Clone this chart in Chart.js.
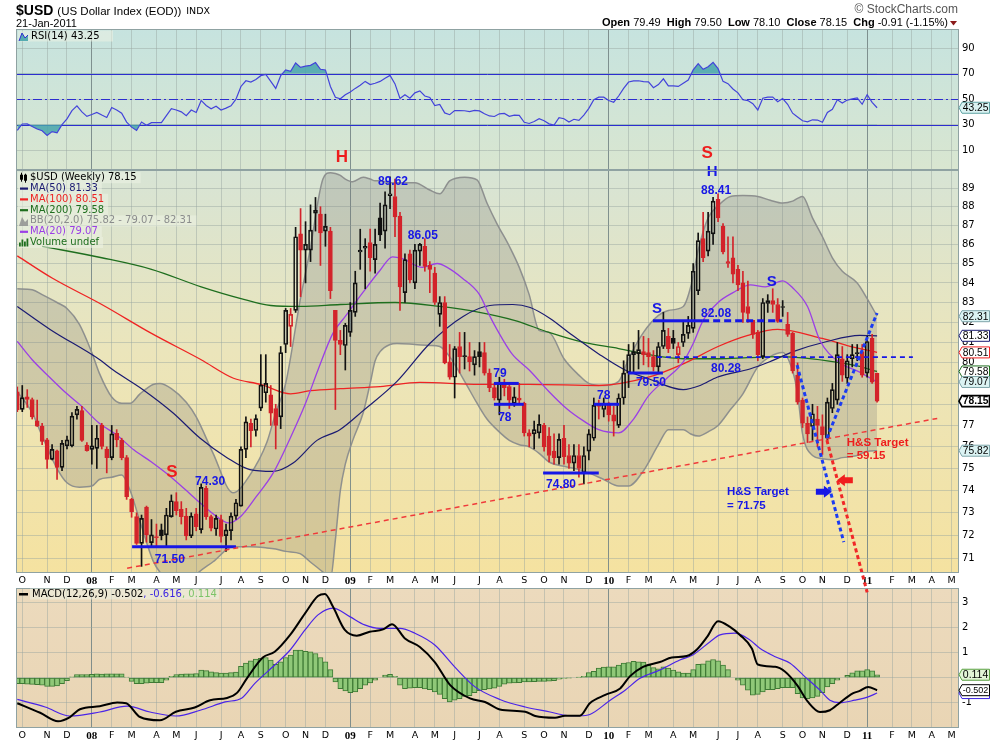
<!DOCTYPE html>
<html>
<head>
<meta charset="utf-8">
<title>$USD (US Dollar Index (EOD)) weekly</title>
<script src="https://cdn.jsdelivr.net/npm/chart.js@4.4.1/dist/chart.umd.min.js"></script>
<style>
html,body{margin:0;padding:0;background:#ffffff;}
#wrap{position:relative;width:990px;height:744px;overflow:hidden;background:#fff;}
#wrap canvas{position:absolute;left:0;top:0;}
</style>
</head>
<body>
<div id="wrap">
<canvas id="cRsi" width="990" height="744"></canvas>
<canvas id="cMacd" width="990" height="744"></canvas>
<canvas id="cPrice" width="990" height="744"></canvas>
</div>
<script>
// ================= DATA =================
const firstBarDate = [2007, 8, 24];   // week 0 = week of Monday 24-Sep-2007
const tickFirstMonth = [2007, 9];     // Oct 2007
const tickLastMonth = [2011, 4];      // May 2011
const monthLetters = ['J','F','M','A','M','J','J','A','S','O','N','D'];
const priceTicks = [71,72,73,74,75,76,77,78,79,80,81,82,83,84,85,86,87,88,89];
const rsiTicks = [10,30,50,70,90];
const macdTicks = [-1,0,1,2,3];

const opens = [
78.59,77.76,78.35,78.23,77.22,76.97,76.32,75.42,75.82,75.05,
76.05,76.05,77.50,77.70,76.08,75.88,75.93,77.02,75.90,75.50,
76.63,76.30,75.50,73.60,72.83,71.65,73.25,71.68,71.90,72.24,
72.02,72.83,73.50,73.15,72.85,71.98,72.95,72.25,74.10,72.83,
72.28,72.70,71.99,72.21,72.85,73.30,75.88,77.10,76.76,77.82,
78.55,78.45,77.80,77.40,80.90,81.80,82.60,86.55,85.70,85.70,
87.65,87.60,86.70,86.70,82.60,81.10,80.85,81.50,82.50,85.60,
85.80,86.10,85.20,87.40,86.70,88.60,88.55,87.50,83.50,85.50,
84.00,85.65,85.90,84.90,84.50,82.40,83.00,80.05,79.30,80.80,
80.30,80.30,79.90,80.55,80.50,79.50,78.80,78.20,79.00,78.85,
78.05,78.30,78.05,76.65,76.60,76.65,77.00,76.50,75.80,75.50,
76.40,75.60,75.25,75.60,74.80,75.80,76.40,78.00,77.75,78.00,
77.50,77.00,78.30,79.50,80.40,80.45,80.55,80.50,80.30,79.80,
80.80,81.30,81.20,80.40,81.00,81.45,81.70,83.60,86.30,85.65,
86.55,88.40,86.95,85.10,85.30,84.70,84.00,82.80,82.10,81.50,
80.30,82.95,83.10,82.90,82.75,81.90,81.45,79.40,78.20,77.10,
76.95,77.30,76.95,76.40,77.80,78.20,80.20,79.25,80.20,80.45,
80.55,79.50,81.20,79.49];
const highs = [
78.83,78.90,78.70,78.30,78.20,77.10,76.40,76.10,75.85,76.30,
76.50,77.60,77.90,77.90,76.20,77.00,77.00,77.10,76.00,77.00,
76.80,76.40,75.60,73.65,73.00,72.90,73.30,72.70,72.50,72.50,
73.20,73.80,73.90,73.50,73.20,73.00,73.20,74.30,74.20,72.90,
72.90,72.90,72.50,73.00,73.60,76.00,77.40,77.30,77.50,80.40,
80.40,78.90,78.00,80.80,82.70,82.70,86.90,87.90,87.20,88.10,
88.50,88.00,87.60,86.90,82.60,81.60,81.95,83.00,84.60,86.80,
86.30,86.80,86.80,88.20,88.80,89.62,89.50,87.70,85.50,85.70,
86.00,86.05,86.30,85.10,84.80,83.30,83.30,80.90,80.80,81.50,
81.50,81.00,80.60,81.00,81.00,79.70,79.00,79.30,79.20,79.00,
78.80,79.00,78.10,76.80,77.20,77.50,77.10,76.90,76.60,76.60,
77.00,76.10,76.10,76.10,76.00,76.80,78.30,78.20,78.30,78.10,
77.90,78.50,80.10,80.90,81.00,81.60,81.30,81.20,80.60,81.00,
82.50,81.70,81.60,81.00,82.00,82.30,85.00,86.60,87.70,87.70,
88.50,88.70,87.10,86.40,86.40,84.90,84.60,84.10,82.10,81.60,
83.20,83.40,83.70,83.20,83.10,82.50,81.50,80.00,78.30,77.40,
78.00,77.90,77.50,78.30,79.00,81.00,80.80,80.40,80.90,80.90,
80.90,81.30,81.40,79.50];
const lows = [
77.65,77.65,77.85,77.30,76.95,76.10,75.00,75.40,74.50,74.90,
75.90,76.00,77.30,76.25,75.80,75.20,75.00,75.90,74.80,75.40,
76.00,75.40,73.60,72.80,71.60,70.65,71.70,71.50,71.50,71.80,
71.50,72.80,72.90,72.50,71.80,71.90,72.20,72.10,72.70,72.20,
72.00,71.70,71.30,71.80,72.70,73.30,75.50,76.00,76.50,77.70,
78.10,77.00,75.90,76.85,80.50,80.80,82.50,83.30,84.00,85.10,
86.70,84.90,85.90,83.20,77.75,80.40,79.65,81.30,82.30,84.70,
83.70,84.60,84.50,86.20,85.80,87.90,86.40,82.60,83.00,84.00,
83.70,84.90,84.60,83.50,82.90,81.80,79.95,79.20,78.30,79.50,
79.70,79.60,79.40,79.80,79.40,78.60,78.20,77.50,78.40,77.80,
77.90,78.00,76.50,76.00,75.90,76.40,75.80,75.30,75.20,75.20,
75.20,75.00,74.90,74.60,74.30,75.40,76.30,77.30,77.40,77.20,
76.50,76.90,78.00,78.80,79.50,79.70,79.90,79.80,79.60,79.50,
80.70,80.50,80.70,80.00,80.80,81.20,81.50,83.40,85.10,85.40,
86.00,87.20,85.50,84.80,84.00,83.60,82.00,82.00,81.20,80.10,
80.20,82.50,82.50,82.00,82.30,81.30,79.50,78.00,76.90,76.20,
76.30,76.00,75.65,76.30,77.60,78.00,79.10,79.00,79.80,80.10,
79.30,79.30,79.00,78.10];
const closes = [
77.73,78.32,78.23,77.40,76.97,76.25,75.42,75.88,75.05,76.16,
76.32,77.44,77.76,76.30,75.82,76.05,76.40,76.02,75.50,76.60,
76.32,75.50,73.72,73.05,71.65,72.75,72.02,72.02,71.95,71.99,
72.90,73.54,73.10,72.83,71.98,72.85,72.38,74.14,72.83,72.32,
72.75,71.95,72.24,72.85,73.45,75.88,77.17,76.75,77.32,78.92,
79.00,77.58,77.00,80.50,82.60,82.40,86.40,85.70,86.00,86.75,
87.80,86.60,86.95,83.60,81.10,80.90,81.85,82.60,84.00,85.70,
85.90,85.30,86.00,86.50,88.10,88.70,87.46,83.80,85.20,84.15,
85.70,86.00,84.85,84.70,83.00,83.00,80.00,79.30,80.70,80.30,
80.35,80.05,80.30,80.30,79.50,78.80,78.30,79.00,78.80,78.20,
78.35,78.20,76.65,76.50,76.80,77.05,76.00,75.60,75.50,76.35,
75.55,75.25,75.60,75.00,75.60,76.60,77.95,77.90,78.05,77.50,
77.20,78.30,79.50,80.40,80.55,80.65,80.40,80.30,79.80,80.80,
81.60,80.70,80.95,80.80,81.40,81.85,84.60,86.20,85.30,86.70,
88.30,87.40,85.60,85.00,84.45,83.90,82.50,82.45,81.40,80.40,
83.00,83.10,82.90,82.05,82.80,81.40,79.60,78.10,77.10,76.60,
77.55,77.00,76.55,78.10,78.70,80.40,79.40,80.10,80.40,80.50,
79.40,81.05,79.06,78.15];

const rsi14 = [
25.4,30.5,30.6,28.5,26.5,25.2,21.5,24.5,23.5,30,
34.5,41,44.8,40,36.5,38,39.6,37.5,35.6,43.5,
41.5,39,32,28,25.4,32,29.5,31.5,31.5,31.5,
37,42.5,41.5,40,37,41.5,39.5,49,45,42.5,
44.5,41.5,43,44.8,50,60,64.5,63.4,65.5,68.5,
69.5,64,58.5,68.5,73,72,78.5,75,76,76.6,
78.8,73.5,73,60,51.5,50.3,53.5,55.7,58.5,61,
64,61.5,62.5,64,66.5,68.7,62,50.5,53.5,50.8,
55,56.5,52.5,51.3,45,45.8,39.2,37.8,41,41,
40.9,40.3,41.2,40.8,38.5,36.8,36.4,38.5,38.8,36.5,
37.4,37.2,31.8,30.9,32.5,34.6,33,30.6,29.6,35.5,
34.6,32,34.2,33.3,37.5,42.8,49.5,51.6,51.6,49,
47.6,52.5,58.5,63.5,64.4,64.5,63.8,63.6,59,61.5,
66,60.5,60.5,60,62.5,65,73,78,73.5,75.5,
79,74,64,62.2,58,55,49.5,48.9,46.5,41.5,
50.8,51.6,51.6,48,50.5,46,39,36,33,32.2,
33.8,33.6,31.8,39.5,42,49.5,47,49.3,50.2,51,
46,53.5,47.5,43.25];

const macdHist = [
-0.24,-0.24,-0.26,-0.27,-0.28,-0.3,-0.35,-0.35,-0.33,-0.24,
-0.12,0.03,0.12,0.12,0.12,0.13,0.15,0.14,0.15,0.15,
0.15,0.15,0.02,-0.15,-0.24,-0.24,-0.22,-0.2,-0.2,-0.2,
-0.1,0.05,0.12,0.14,0.15,0.15,0.16,0.3,0.28,0.23,
0.2,0.18,0.18,0.2,0.22,0.45,0.58,0.67,0.74,0.77,
0.8,0.7,0.53,0.63,0.8,0.9,1.1,1.1,1.05,1.03,
0.96,0.8,0.63,0.32,-0.17,-0.44,-0.53,-0.6,-0.57,-0.44,
-0.3,-0.21,-0.1,0.0,0.1,0.13,0.05,-0.3,-0.44,-0.42,
-0.4,-0.4,-0.45,-0.48,-0.57,-0.67,-0.84,-0.97,-0.9,-0.84,
-0.75,-0.72,-0.6,-0.52,-0.48,-0.45,-0.42,-0.35,-0.26,-0.22,
-0.21,-0.2,-0.17,-0.17,-0.16,-0.15,-0.15,-0.14,-0.12,-0.06,
-0.03,-0.01,0.0,0.01,0.05,0.2,0.25,0.38,0.42,0.43,
0.43,0.5,0.58,0.6,0.65,0.63,0.62,0.5,0.4,0.35,
0.43,0.38,0.3,0.23,0.18,0.18,0.32,0.53,0.55,0.67,
0.72,0.67,0.5,0.32,0.0,-0.1,-0.3,-0.5,-0.7,-0.67,
-0.57,-0.48,-0.48,-0.44,-0.4,-0.4,-0.4,-0.64,-0.81,-0.84,
-0.81,-0.75,-0.6,-0.37,-0.24,-0.1,0.0,0.09,0.19,0.27,
0.27,0.32,0.27,0.114];

// [week, value] readings
const macdLine = [[0,-1.02],[4.6,-1.4],[8.2,-1.74],[10.6,-1.57],[12.6,-1.26],[16.6,-1.14],[20.1,-0.99],[21.9,-1.02],[24.7,-1.57],[28.7,-1.7],[31.9,-1.36],[35.7,-1.19],[38.8,-0.9],[42.2,-0.81],[44.2,-0.61],[46.2,-0.03],[49.4,0.8],[51.8,1.03],[54.9,1.7],[57.9,2.56],[60.5,3.25],[61.9,3.33],[63.5,2.83],[65.9,1.9],[68.3,1.67],[70.9,1.83],[73.6,1.92],[75.4,2.13],[78,1.56],[81,1.22],[84,0.62],[87.1,-0.3],[91.1,-0.83],[94.1,-0.97],[97.1,-1.27],[102.2,-1.36],[104.2,-1.53],[108.2,-1.6],[110.2,-1.52],[113.2,-1.52],[115.2,-1.02],[118.3,-0.69],[121.3,-0.43],[123.3,0.06],[125.9,0.43],[129.3,0.62],[131.7,0.8],[134.7,0.86],[136.8,1.13],[138.8,1.62],[141,2.25],[143.4,2.02],[145.4,1.7],[147.8,1.16],[149,0.52],[152.5,0.43],[154.5,0.23],[156.9,-0.3],[159.1,-0.97],[161.5,-1.37],[163.5,-1.3],[165.5,-1.0],[168.1,-0.63],[169.5,-0.53],[171.2,-0.37],[173,-0.502]];
const macdSignal = [[0,-0.87],[5.6,-1.17],[10.6,-1.53],[16.6,-1.37],[22.1,-1.14],[26.7,-1.37],[31.9,-1.53],[36.8,-1.3],[41.8,-0.97],[45.2,-0.81],[47.8,-0.23],[51.8,0.5],[54.9,1.1],[57.9,1.9],[60.5,2.5],[63.5,2.77],[66.9,2.43],[69.9,2.1],[72.9,1.96],[77,1.96],[80,1.77],[84,1.3],[88,0.43],[92.1,-0.37],[97.1,-0.87],[102.2,-1.17],[107.2,-1.37],[110.2,-1.5],[113.2,-1.52],[115.2,-1.47],[119.3,-0.9],[122.3,-0.5],[125.3,-0.03],[129.3,0.3],[133.3,0.7],[135.9,0.9],[139.4,1.43],[141.4,1.7],[144.4,1.77],[147.4,1.5],[149.4,1.17],[152.5,0.83],[155.5,0.57],[158.5,0.03],[161.5,-0.5],[163.5,-0.9],[165.5,-1.0],[168.5,-0.9],[171.2,-0.77],[173,-0.616]];

const ma20 = [[0,81.05],[3,80.15],[6.5,79.3],[10,78.5],[13,77.9],[16.5,77.1],[20,76.55],[23.5,75.85],[27,75.3],[30,74.78],[33.5,74.1],[37,73.4],[40,72.85],[42.5,72.55],[45,72.85],[48,73.7],[51.5,74.8],[55,76.45],[58,78.05],[60.5,79.65],[63.5,81.45],[66,82.3],[69.5,83.5],[73,84.65],[75.5,85.35],[77.5,85.25],[81.5,84.8],[84.5,85.0],[86.5,84.8],[89.5,84.25],[93,83.4],[95,82.35],[96.5,81.65],[99.5,80.45],[103,79.65],[107,78.6],[110.5,77.8],[114,77.2],[117,76.8],[121,76.65],[124,77.3],[127,78.4],[130.5,79.2],[134,80.05],[136,80.95],[138,82.1],[141,83.0],[144,83.5],[147.5,83.9],[150.5,83.8],[154,84.1],[156,83.75],[159,82.8],[161.5,81.1],[165.5,80.0],[169.5,79.55],[173,79.07]];
const ma50 = [[0,82.8],[6.6,81.65],[16.6,80.15],[19.3,79.65],[25.3,78.7],[31.3,77.6],[36.8,76.4],[42.2,75.5],[46.8,74.95],[51.5,74.87],[55.5,75.25],[60.3,76.3],[64.9,76.8],[69.6,77.7],[76.4,79.1],[83,80.95],[89.7,82.3],[95.1,82.85],[99.7,82.9],[103.2,82.75],[107.2,82.2],[111.2,81.45],[117.2,80.4],[121.9,79.7],[127.3,79.2],[134,78.7],[137.4,78.9],[140.8,79.3],[147.4,79.7],[151.4,80.05],[156.1,80.55],[162.9,81.05],[169.5,81.35],[173,81.33]];
const ma100 = [[0,85.4],[7,84.25],[17,82.9],[27,81.45],[37,80.15],[43.5,79.25],[49,78.95],[55,78.5],[59,78.65],[65,78.75],[73,78.85],[81,79.05],[93,78.95],[103,78.95],[117,78.9],[127,79.3],[134,79.95],[141,80.8],[147,81.35],[153,81.65],[162,81.2],[167,80.85],[173,80.51]];
const ma200 = [[5,85.9],[17,85.3],[27,84.7],[37,83.8],[45,83.2],[51,82.85],[57,82.8],[65,82.9],[76,83.0],[85,82.8],[93,82.5],[100,82.1],[107,81.5],[114,81.0],[121,80.7],[127,80.4],[134,80.2],[141,80.2],[147,80.25],[153,80.3],[163,80.1],[169,79.85],[173,79.58]];

const bbWeeks = [0,3,5,8,10,12.5,15,16.5,19,21,22.7,24.7,27.3,28.7,31,34,36,39.4,43.4,46.8,50.2,52,54,56.9,58.9,61.5,63,64,65,66,67.5,69.6,71,72,73,75,76.4,80,83,85,87,90,92.5,94.5,96.5,99,101,103,105,107,110,113,115,118,121,123,126,129,131,134,135.5,137,139,141,143.5,146,149,151.5,154,156,157,158,160,162,164,166,169,171,173];
const bbUpper = [83.7,83.65,83.4,83.0,82.7,81.9,80.5,79.5,78.35,78.05,78.05,78.5,78.95,79.0,78.75,78.1,77.4,75.7,73.9,74.7,76.2,77.6,79.0,83.1,85.7,89.5,89.85,89.8,89.7,89.5,89.35,89.6,89.5,89.4,89.4,89.3,89.3,89.3,88.9,88.7,89.4,89.6,89.45,88.2,87.1,85.9,84.8,83.4,81.6,81.5,80.2,79.4,79.0,78.9,79.1,80.2,81.5,82.35,82.6,82.8,83.8,85.7,87.4,88.05,88.55,88.6,88.55,88.35,88.2,88.3,88.45,88.55,87.4,86.4,85.3,84.6,84.0,83.2,82.31];
const bbLower = [78.6,77.6,76.5,75.0,74.35,74.15,74.2,74.5,74.6,74.7,74.0,72.6,70.9,70.4,69.9,69.8,70.3,70.85,71.5,71.5,71.45,71.4,71.3,71.2,70.85,70.4,70.1,71.8,74.0,75.2,76.3,77.6,79.0,80.1,80.55,80.9,80.95,80.9,80.85,80.8,80.3,79.1,78.05,77.3,76.8,76.3,76.1,76.0,75.7,75.3,75.1,74.95,74.8,74.5,74.2,74.2,74.9,76.1,76.8,76.8,76.6,76.5,76.7,77.0,77.75,78.5,79.8,80.3,80.5,79.6,78.5,76.6,75.6,75.45,75.4,75.5,75.6,75.8,75.82];

// ================= ANNOTATIONS (chart coordinates: week, price) =================
const RED = '#ee1d1d', BLUE = '#1717e6';
const noteTexts = [
  {t:'H', w:65.3, p:90.72, c:RED, f:'bold 17px "Liberation Sans"'},
  {t:'S', w:138.8, p:90.89, c:RED, f:'bold 17px "Liberation Sans"'},
  {t:'H', w:139.8, p:89.89, c:BLUE, f:'bold 15px "Liberation Sans"'},
  {t:'S', w:31.1, p:74.83, c:RED, f:'bold 17px "Liberation Sans"'},
  {t:'74.30', w:38.8, p:74.42, c:BLUE, f:'bold 12px "Liberation Sans"'},
  {t:'71.50', w:30.7, p:70.96, c:BLUE, f:'bold 12px "Liberation Sans"'},
  {t:'89.62', w:75.6, p:89.34, c:BLUE, f:'bold 12px "Liberation Sans"'},
  {t:'86.05', w:81.6, p:86.44, c:BLUE, f:'bold 12px "Liberation Sans"'},
  {t:'79', w:97.1, p:79.45, c:BLUE, f:'bold 12px "Liberation Sans"'},
  {t:'78', w:98.1, p:77.38, c:BLUE, f:'bold 12px "Liberation Sans"'},
  {t:'74.80', w:109.4, p:74.27, c:BLUE, f:'bold 12px "Liberation Sans"'},
  {t:'78', w:118.0, p:78.41, c:BLUE, f:'bold 12px "Liberation Sans"'},
  {t:'79.50', w:127.5, p:79.03, c:BLUE, f:'bold 12px "Liberation Sans"'},
  {t:'S', w:128.7, p:82.66, c:BLUE, f:'bold 15px "Liberation Sans"'},
  {t:'82.08', w:140.6, p:82.45, c:BLUE, f:'bold 12px "Liberation Sans"'},
  {t:'80.28', w:142.6, p:79.69, c:BLUE, f:'bold 12px "Liberation Sans"'},
  {t:'88.41', w:140.6, p:88.85, c:BLUE, f:'bold 12px "Liberation Sans"'},
  {t:'S', w:151.8, p:84.06, c:BLUE, f:'bold 15px "Liberation Sans"'},
  {t:'H&S Target', w:166.9, p:76.20, c:RED, f:'bold 11.5px "Liberation Sans"', a:'left'},
  {t:'= 59.15', w:166.9, p:75.57, c:RED, f:'bold 11.5px "Liberation Sans"', a:'left'},
  {t:'H&S Target', w:142.8, p:73.93, c:BLUE, f:'bold 11.5px "Liberation Sans"', a:'left'},
  {t:'= 71.75', w:142.8, p:73.30, c:BLUE, f:'bold 11.5px "Liberation Sans"', a:'left'}
];
const noteLines = [
  {w1:23.1, p1:71.5, w2:44.0, p2:71.5, c:BLUE, lw:3, d:[], clip:true},
  {w1:95.9, p1:79, w2:100.9, p2:79, c:BLUE, lw:3, d:[], clip:true},
  {w1:95.9, p1:78, w2:101.9, p2:78, c:BLUE, lw:3, d:[], clip:true},
  {w1:105.8, p1:74.8, w2:117.0, p2:74.8, c:BLUE, lw:3, d:[], clip:true},
  {w1:116.0, p1:78, w2:121.1, p2:78, c:BLUE, lw:3, d:[], clip:true},
  {w1:122.9, p1:79.5, w2:129.9, p2:79.5, c:BLUE, lw:3, d:[], clip:true},
  {w1:127.9, p1:82.08, w2:137.8, p2:82.08, c:BLUE, lw:3, d:[], clip:true},
  {w1:137.8, p1:82.08, w2:153.9, p2:82.08, c:BLUE, lw:3, d:[7,4], clip:true},
  {w1:128.7, p1:80.28, w2:180.2, p2:80.28, c:BLUE, lw:1.6, d:[5,4], clip:true},
  {w1:22.1, p1:70.57, w2:185.1, p2:77.33, c:'#f03a3a', lw:1.5, d:[5,4], clip:true},
  {w1:156.9, p1:79.89, w2:166.3, p2:71.70, c:'#1b3cf2', lw:3, d:[4,3], clip:true},
  {w1:162.9, p1:76.40, w2:173.0, p2:82.47, c:'#1b3cf2', lw:3, d:[4,3], clip:true},
  {w1:162.9, p1:76.31, w2:171.0, p2:69.54, c:'#f02828', lw:3, d:[4,3], clip:false}
];
const noteArrows = [
  {w:163.9, p:73.94, dir:1, c:BLUE},
  {w:164.9, p:74.47, dir:-1, c:'#f01e1e'}
];

// ================= HELPERS =================
Chart.defaults.font.family = '"DejaVu Sans", Verdana, sans-serif';
Chart.defaults.font.size = 10;
Chart.defaults.color = '#000';
Chart.defaults.animation = false;
Chart.defaults.responsive = false;
Chart.defaults.events = [];
Chart.defaults.plugins.legend.display = false;
Chart.defaults.plugins.tooltip.enabled = false;

const X_MIN = -0.26, X_MAX = 189.48;
const DAY = 86400000;
const T0 = Date.UTC(firstBarDate[0], firstBarDate[1], firstBarDate[2]);
const monthTicks = [];
for (let k = tickFirstMonth[0]*12 + tickFirstMonth[1]; k <= tickLastMonth[0]*12 + tickLastMonth[1]; k++) {
  const yy = Math.floor(k / 12), mm = k % 12;
  const w = Math.ceil((Date.UTC(yy, mm, 1) - T0) / (7 * DAY));
  monthTicks.push({value: w, label: mm === 0 ? String(yy).slice(2) : monthLetters[mm], year: mm === 0});
}
const tickInfo = new Map(monthTicks.map(t => [t.value, t]));
const isYearTick = c => !!(c && c.tick && tickInfo.get(c.tick.value) && tickInfo.get(c.tick.value).year);
const P = arr => arr.map(([x, y]) => ({x, y}));
const weeks = closes.map((_, i) => i);
const last = a => a[a.length - 1];

function xScale(showLabels, h) {
  return {
    type: 'linear', min: X_MIN, max: X_MAX, offset: false,
    afterBuildTicks: s => { s.ticks = monthTicks.map(t => ({value: t.value})); },
    afterFit: s => { s.height = h; },
    border: {display: false},
    grid: {offset: false, drawTicks: false, lineWidth: 1,
      color: c => isYearTick(c) ? 'rgba(118,134,134,0.9)' : 'rgba(150,165,160,0.45)'},
    ticks: {display: showLabels, autoSkip: false, maxRotation: 0, minRotation: 0, padding: 2, color: '#000',
      callback: v => (tickInfo.get(v) || {label: ''}).label,
      font: c => isYearTick(c) ? {family: '"Liberation Serif", serif', size: 11, weight: 'bold'} : {family: '"DejaVu Sans", sans-serif', size: 9.5}}
  };
}
function yScale(type, min, max, ticks) {
  return {
    type, position: 'right', min, max,
    afterBuildTicks: s => { s.ticks = ticks.map(v => ({value: v})); },
    afterFit: s => { s.width = 31; },
    border: {display: false},
    grid: {drawTicks: false, color: 'rgba(150,165,160,0.45)', lineWidth: 1},
    ticks: {autoSkip: false, padding: 3, color: '#000', font: {size: 10, family: '"DejaVu Sans", sans-serif'}, callback: v => String(v)}
  };
}
function bgPlugin(stops) {
  return {
    id: 'panelBg',
    beforeDraw(chart) {
      const {ctx, chartArea: a} = chart;
      const g = ctx.createLinearGradient(0, a.top, 0, a.bottom);
      stops.forEach(([o, c]) => g.addColorStop(o, c));
      ctx.save(); ctx.fillStyle = g; ctx.fillRect(a.left, a.top, a.right - a.left, a.bottom - a.top); ctx.restore();
    }
  };
}
function border(chart) {
  const {ctx, chartArea: a} = chart;
  ctx.save(); ctx.strokeStyle = '#8fa2a2'; ctx.lineWidth = 1;
  ctx.strokeRect(Math.round(a.left) + 0.5, Math.round(a.top) + 0.5, Math.round(a.right - a.left) - 1, Math.round(a.bottom - a.top) - 1);
  ctx.restore();
}
function valueTag(ctx, xTip, y, text, st) {
  ctx.save();
  const x1 = xTip + 3, x2 = 989.5, maxW = x2 - x1 - 1.5;
  let size = 11.5, font;
  do {
    size -= 0.25;
    font = (st.bold ? 'bold ' : '') + size + 'px "Liberation Sans"';
    ctx.font = font;
  } while (ctx.measureText(text).width > maxW && size > 6);
  const h = 11;
  ctx.beginPath();
  ctx.moveTo(xTip, y); ctx.lineTo(x1, y - h / 2); ctx.lineTo(x2, y - h / 2); ctx.lineTo(x2, y + h / 2); ctx.lineTo(x1, y + h / 2); ctx.closePath();
  ctx.fillStyle = st.fill; ctx.fill();
  ctx.lineWidth = st.lw || 1; ctx.strokeStyle = st.stroke; ctx.stroke();
  ctx.fillStyle = st.color || '#000'; ctx.textAlign = 'left'; ctx.textBaseline = 'middle';
  ctx.font = font;
  ctx.fillText(text, x1 + 0.8, y + 0.5);
  ctx.restore();
}
function text(ctx, s, x, y, font, color, align) {
  ctx.font = font; ctx.fillStyle = color; ctx.textAlign = align || 'left'; ctx.textBaseline = 'middle';
  ctx.fillText(s, x, y);
  return ctx.measureText(s).width;
}
function legendBox(ctx, x, y, w) {
  ctx.fillStyle = 'rgba(236,242,228,0.55)';
  ctx.fillRect(x, y - 5.5, w, 11);
}
const f2 = v => v.toFixed(2);

// ================= RSI PANEL =================
new Chart(document.getElementById('cRsi'), {
  type: 'line',
  data: {datasets: [
    {data: P(weeks.map(i => [i, rsi14[i]])), borderColor: '#4343da', borderWidth: 1.2, pointRadius: 0, tension: 0,
      fill: {target: {value: 70}, above: 'rgba(70,165,172,0.85)', below: 'rgba(0,0,0,0)'}},
    {data: P(weeks.map(i => [i, rsi14[i]])), borderColor: 'rgba(0,0,0,0)', borderWidth: 0, pointRadius: 0, tension: 0,
      fill: {target: {value: 30}, above: 'rgba(0,0,0,0)', below: 'rgba(70,165,172,0.85)'}}
  ]},
  options: {
    devicePixelRatio: 1,
    layout: {padding: {left: 16, top: 29, right: 0, bottom: 574}},
    scales: {x: xScale(false, 0), y: yScale('linear', -5.7, 105.2, rsiTicks)}
  },
  plugins: [bgPlugin([[0, '#c6e3df'], [1, '#d9e6d0']]), {
    id: 'rsiDeco',
    beforeDatasetsDraw(chart) {
      const {ctx, chartArea: a, scales: {y}} = chart;
      ctx.save(); ctx.strokeStyle = '#2d2dcf'; ctx.lineWidth = 1;
      [70, 30].forEach(v => { const py = Math.round(y.getPixelForValue(v)) + 0.5; ctx.beginPath(); ctx.moveTo(a.left, py); ctx.lineTo(a.right, py); ctx.stroke(); });
      ctx.setLineDash([9, 3, 2, 3]);
      const p5 = Math.round(y.getPixelForValue(50)) + 0.5; ctx.beginPath(); ctx.moveTo(a.left, p5); ctx.lineTo(a.right, p5); ctx.stroke();
      ctx.restore();
    },
    afterDraw(chart) {
      const {ctx, chartArea: a, scales: {y}} = chart;
      border(chart);
      ctx.save();
      // header
      let hx = 16;
      hx += text(ctx, '$USD', hx, 11, 'bold 14px "Liberation Sans"', '#000') + 4;
      hx += text(ctx, '(US Dollar Index (EOD))', hx, 11.5, '11.5px "Liberation Sans"', '#000') + 5;
      text(ctx, 'INDX', hx, 11.5, '9.5px "DejaVu Sans"', '#000');
      text(ctx, '21-Jan-2011', 16, 24, '11px "Liberation Sans"', '#000');
      text(ctx, '\u00A9 StockCharts.com', 958, 10, '12px "Liberation Sans"', '#555', 'right');
      // OHLC line
      const n = closes.length - 1;
      const chg = closes[n] - closes[n - 1];
      const segs = [['Open ', 1], [f2(opens[n]) + '  ', 0], ['High ', 1], [f2(highs[n]) + '  ', 0], ['Low ', 1], [f2(lows[n]) + '  ', 0],
        ['Close ', 1], [f2(closes[n]) + '  ', 0], ['Chg ', 1], [f2(chg) + ' (' + f2(chg / closes[n - 1] * 100) + '%)', 0]];
      const fnt = b => (b ? 'bold ' : '') + '11px "Liberation Sans"';
      let tot = 0; segs.forEach(([s, b]) => { ctx.font = fnt(b); tot += ctx.measureText(s).width; });
      let xx = 948 - tot;
      segs.forEach(([s, b]) => { xx += text(ctx, s, xx, 23, fnt(b), '#000'); });
      ctx.fillStyle = '#8b1a1a'; ctx.beginPath(); ctx.moveTo(950, 21); ctx.lineTo(957, 21); ctx.lineTo(953.5, 25.5); ctx.closePath(); ctx.fill();
      // legend
      legendBox(ctx, 18, 36, 95);
      ctx.fillStyle = 'rgba(70,165,172,0.9)'; ctx.strokeStyle = '#2d2dcf'; ctx.lineWidth = 1;
      ctx.beginPath(); ctx.moveTo(19, 41); ctx.lineTo(22, 33); ctx.lineTo(25, 38); ctx.lineTo(28, 35); ctx.lineTo(28, 41); ctx.closePath(); ctx.fill();
      ctx.beginPath(); ctx.moveTo(19, 41); ctx.lineTo(22, 33); ctx.lineTo(25, 38); ctx.lineTo(28, 35); ctx.stroke();
      text(ctx, 'RSI(14) ' + f2(last(rsi14)), 31, 36, '10px "DejaVu Sans"', '#000');
      valueTag(ctx, a.right, y.getPixelForValue(last(rsi14)), f2(last(rsi14)), {fill: '#dbf3f3', stroke: '#5fa3a3'});
      ctx.restore();
    }
  }]
});

// ================= MACD PANEL =================
new Chart(document.getElementById('cMacd'), {
  type: 'bar',
  data: {datasets: [
    {type: 'bar', data: P(weeks.map(i => [i, macdHist[i]])), backgroundColor: '#8fc878', borderColor: '#3f7a35', borderWidth: 1,
      borderSkipped: false, barThickness: 5, grouped: false, order: 5},
    {type: 'line', data: P(macdSignal), borderColor: '#4a24e8', borderWidth: 1.2, pointRadius: 0, cubicInterpolationMode: 'monotone', order: 2},
    {type: 'line', data: P(macdLine), borderColor: '#000000', borderWidth: 2, pointRadius: 0, cubicInterpolationMode: 'monotone', order: 1}
  ]},
  options: {
    devicePixelRatio: 1,
    layout: {padding: {left: 16, top: 588, right: 0, bottom: 0}},
    scales: {x: xScale(true, 16), y: yScale('linear', -2.008, 3.57, macdTicks)}
  },
  plugins: [bgPlugin([[0, '#ecdabd'], [1, '#e9d5b4']]), {
    id: 'macdDeco',
    afterDraw(chart) {
      const {ctx, chartArea: a, scales: {y}} = chart;
      border(chart);
      ctx.save();
      const m = last(macdLine)[1], s = last(macdSignal)[1], h = last(macdHist);
      const y0 = 594;
      ctx.fillStyle = '#000'; ctx.fillRect(19, y0 - 1, 9, 2.5);
      ctx.font = '10px "DejaVu Sans"';
      const t1 = 'MACD(12,26,9) ' + m.toFixed(3);
      const t2 = ', ' + s.toFixed(3);
      const t3 = ', ' + h.toFixed(3);
      const w1 = ctx.measureText(t1).width, w2 = ctx.measureText(t2).width, w3 = ctx.measureText(t3).width;
      legendBox(ctx, 30, y0, w1 + w2 + w3 + 4);
      text(ctx, t1, 32, y0, '10px "DejaVu Sans"', '#000');
      text(ctx, t2, 32 + w1, y0, '10px "DejaVu Sans"', '#3a22e0');
      text(ctx, t3, 32 + w1 + w2, y0, '10px "DejaVu Sans"', '#7cc468');
      valueTag(ctx, a.right, y.getPixelForValue(s), s.toFixed(3), {fill: '#ffffff', stroke: '#3a22e0'});
      valueTag(ctx, a.right, y.getPixelForValue(m), m.toFixed(3), {fill: '#ffffff', stroke: '#000000'});
      valueTag(ctx, a.right, y.getPixelForValue(h), h.toFixed(3), {fill: '#e1f4d6', stroke: '#5aa042'});
      ctx.restore();
    }
  }]
});

// ================= PRICE PANEL =================
const upColor = i => (closes[i] < (i > 0 ? closes[i - 1] : opens[i])) ? '#d3232a' : '#111111';
const wickUp = weeks.map(i => ({x: i, y: [Math.max(opens[i], closes[i]), highs[i]]}));
const wickDn = weeks.map(i => ({x: i, y: [lows[i], Math.min(opens[i], closes[i])]}));
const bodies = weeks.map(i => ({x: i, y: [opens[i], closes[i]]}));
const lineDs = (arr, color, width, order) => ({type: 'line', data: P(arr), borderColor: color, borderWidth: width, pointRadius: 0,
  cubicInterpolationMode: 'monotone', fill: false, order});

new Chart(document.getElementById('cPrice'), {
  type: 'bar',
  data: {datasets: [
    {type: 'line', data: P(bbWeeks.map((w, i) => [w, bbUpper[i]])), borderColor: 'rgba(138,140,140,0.95)', borderWidth: 1.5, pointRadius: 0,
      cubicInterpolationMode: 'monotone', fill: '+1', backgroundColor: 'rgba(112,112,112,0.24)', order: 20},
    {type: 'line', data: P(bbWeeks.map((w, i) => [w, bbLower[i]])), borderColor: 'rgba(138,140,140,0.95)', borderWidth: 1.5, pointRadius: 0,
      cubicInterpolationMode: 'monotone', fill: false, order: 19},
    lineDs(ma200, '#1e6e1e', 1.3, 10),
    lineDs(ma100, '#ef2323', 1.3, 9),
    lineDs(ma50, '#1b1b72', 1.2, 8),
    lineDs(ma20, '#9b3fe6', 1.3, 7),
    {type: 'bar', data: wickUp, backgroundColor: c => upColor(c.dataIndex), borderWidth: 0, barThickness: 1, grouped: false, order: 3},
    {type: 'bar', data: wickDn, backgroundColor: c => upColor(c.dataIndex), borderWidth: 0, barThickness: 1, grouped: false, order: 3},
    {type: 'bar', data: bodies,
      backgroundColor: c => closes[c.dataIndex] < opens[c.dataIndex] ? upColor(c.dataIndex) : 'rgba(0,0,0,0)',
      borderColor: c => upColor(c.dataIndex), borderWidth: 1, borderSkipped: false, barThickness: 4, minBarLength: 1, grouped: false, order: 2}
  ]},
  options: {
    devicePixelRatio: 1,
    layout: {padding: {left: 16, top: 170, right: 0, bottom: 156}},
    scales: {x: xScale(true, 15), y: yScale('logarithmic', 70.365, 89.995, priceTicks)}
  },
  plugins: [bgPlugin([[0, '#d7e4d5'], [0.45, '#ebe5bb'], [1, '#f5e2a0']]), {
    id: 'priceDeco',
    afterDatasetsDraw(chart) {
      const {ctx, chartArea: a, scales: {x, y}} = chart;
      const drawLine = l => {
        ctx.beginPath(); ctx.strokeStyle = l.c; ctx.lineWidth = l.lw; ctx.setLineDash(l.d);
        ctx.moveTo(x.getPixelForValue(l.w1), y.getPixelForValue(l.p1));
        ctx.lineTo(x.getPixelForValue(l.w2), y.getPixelForValue(l.p2)); ctx.stroke();
      };
      ctx.save();
      ctx.beginPath(); ctx.rect(a.left, a.top, a.right - a.left, a.bottom - a.top); ctx.clip();
      noteLines.filter(l => l.clip).forEach(drawLine);
      ctx.restore();
      ctx.save();
      noteLines.filter(l => !l.clip).forEach(drawLine);
      ctx.restore();
      // arrows
      ctx.save();
      noteArrows.forEach(ar => {
        const tx = x.getPixelForValue(ar.w), ty = y.getPixelForValue(ar.p), d = ar.dir;
        ctx.fillStyle = ar.c; ctx.beginPath();
        ctx.moveTo(tx, ty); ctx.lineTo(tx - d * 8, ty - 6); ctx.lineTo(tx - d * 8, ty - 3); ctx.lineTo(tx - d * 16, ty - 3);
        ctx.lineTo(tx - d * 16, ty + 3); ctx.lineTo(tx - d * 8, ty + 3); ctx.lineTo(tx - d * 8, ty + 6); ctx.closePath(); ctx.fill();
      });
      // texts
      noteTexts.forEach(n => text(ctx, n.t, x.getPixelForValue(n.w), y.getPixelForValue(n.p), n.f, n.c, n.a || 'center'));
      ctx.restore();
    },
    afterDraw(chart) {
      const {ctx, chartArea: a, scales: {y}} = chart;
      border(chart);
      ctx.save();
      // legend
      const rows = [
        {k: 'candle', t: '$USD (Weekly) ' + f2(last(closes)), c: '#000'},
        {k: 'line', ic: '#1b1b72', t: 'MA(50) ' + f2(last(ma50)[1]), c: '#1b1b72'},
        {k: 'line', ic: '#ef2323', t: 'MA(100) ' + f2(last(ma100)[1]), c: '#ef2323'},
        {k: 'line', ic: '#1e6e1e', t: 'MA(200) ' + f2(last(ma200)[1]), c: '#1e6e1e'},
        {k: 'bb', t: 'BB(20,2.0) ' + f2(last(bbLower)) + ' - ' + f2(last(ma20)[1]) + ' - ' + f2(last(bbUpper)), c: '#8a8c8c'},
        {k: 'line', ic: '#9b3fe6', t: 'MA(20) ' + f2(last(ma20)[1]), c: '#9b3fe6'},
        {k: 'vol', t: 'Volume undef', c: '#1e6e1e'}
      ];
      rows.forEach((r, i) => {
        const yy = 177.7 + i * 10.8;
        ctx.font = '10px "DejaVu Sans"';
        legendBox(ctx, 18, yy, ctx.measureText(r.t).width + 16);
        if (r.k === 'line') { ctx.fillStyle = r.ic; ctx.fillRect(20, yy - 1, 8, 2.2); }
        if (r.k === 'candle') {
          ctx.strokeStyle = '#000'; ctx.lineWidth = 1;
          ctx.beginPath(); ctx.moveTo(21.5, yy - 5); ctx.lineTo(21.5, yy + 4); ctx.moveTo(25.5, yy - 4); ctx.lineTo(25.5, yy + 5); ctx.stroke();
          ctx.fillStyle = '#000'; ctx.fillRect(20, yy - 3, 3, 5); ctx.strokeRect(24.5, yy - 2.5, 2, 5);
        }
        if (r.k === 'bb') {
          ctx.fillStyle = 'rgba(140,140,140,0.8)'; ctx.beginPath();
          ctx.moveTo(19, yy + 5); ctx.lineTo(22, yy - 4); ctx.lineTo(25, yy + 1); ctx.lineTo(28, yy - 2); ctx.lineTo(28, yy + 5); ctx.closePath(); ctx.fill();
        }
        if (r.k === 'vol') {
          ctx.fillStyle = '#1e6e1e';
          [[19, 4], [21.5, 7], [24, 5], [26.5, 8]].forEach(([bx, bh]) => ctx.fillRect(bx, yy + 4 - bh, 1.8, bh));
        }
        text(ctx, r.t, 30, yy, '10px "DejaVu Sans"', r.c);
      });
      // value tags on the right axis
      const R = a.right;
      valueTag(ctx, R, y.getPixelForValue(last(bbUpper)), f2(last(bbUpper)), {fill: '#dbf3f3', stroke: '#7fa6aa'});
      valueTag(ctx, R, y.getPixelForValue(last(ma50)[1]), f2(last(ma50)[1]), {fill: '#ffffff', stroke: '#1b1b72'});
      valueTag(ctx, R, y.getPixelForValue(last(ma100)[1]), f2(last(ma100)[1]), {fill: '#ffffff', stroke: '#ef2323'});
      valueTag(ctx, R, y.getPixelForValue(last(ma200)[1]), f2(last(ma200)[1]), {fill: '#ffffff', stroke: '#1e6e1e'});
      valueTag(ctx, R, y.getPixelForValue(last(ma20)[1]), f2(last(ma20)[1]), {fill: '#dbf3f3', stroke: '#7fa6aa'});
      valueTag(ctx, R, y.getPixelForValue(last(closes)), f2(last(closes)), {fill: '#ffffff', stroke: '#000000', bold: true, lw: 1.6});
      valueTag(ctx, R, y.getPixelForValue(last(bbLower)), f2(last(bbLower)), {fill: '#dbf3f3', stroke: '#7fa6aa'});
      ctx.restore();
    }
  }]
});
</script>
</body>
</html>
